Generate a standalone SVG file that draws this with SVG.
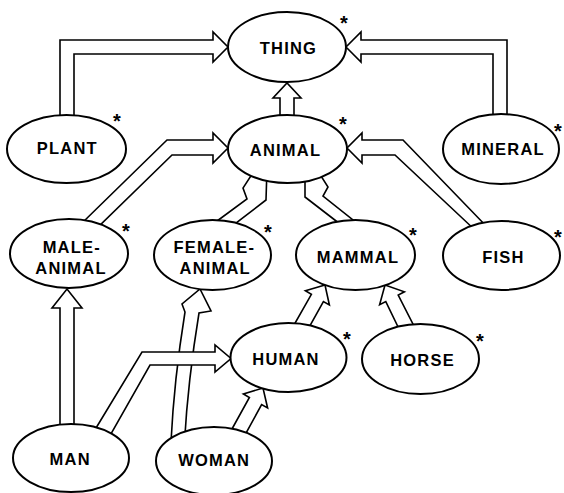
<svg xmlns="http://www.w3.org/2000/svg" width="564" height="493" viewBox="0 0 564 493">
<style>
.c{fill:#fff;stroke:#000;stroke-width:1.6;stroke-linejoin:miter}
.n{fill:#fff;stroke:#000;stroke-width:2}
.t{font-family:"Liberation Sans",Arial,sans-serif;font-weight:bold;font-size:16.5px;letter-spacing:1.2px;text-anchor:middle;fill:#000}
.s{font-family:"Liberation Sans",Arial,sans-serif;font-weight:bold;font-size:20px;text-anchor:middle;fill:#000}
</style>
<rect x="0" y="0" width="564" height="493" fill="#fff"/>
<g id="connectors">
  <polygon id="plant-thing" class="c" points="60,125 60,40 213,40 213,32 228,47 213,62 213,54 74,54 74,125"/>
  <polygon id="mineral-thing" class="c" points="493,125 493,54 361,54 361,62 346,47 361,32 361,40 507,40 507,125"/>
  <polygon id="animal-thing" class="c" points="280,122 280,98 273,98 287,83 301,98 294,98 294,122"/>
  <polygon id="male-animal" class="c" points="81,224 167,140 213,140 213,133 228,148 213,163 213,155 172,155 97,228"/>
  <polygon id="fish-animal" class="c" points="489,229 403,140 362,140 362,133 347,148 362,163 362,155 395,155 476,231"/>
  <polygon id="female-animal" class="c" points="213,224 247,199 243,188 256,168 267,168 266,200 231,227"/>
  <polygon id="mammal-animal" class="c" points="340,224 305,197 305,168 316,168 328,187 323,196 358,224"/>
  <polygon id="man-male" class="c" points="60,432 60,308 52,308 67,289 82,308 74,308 74,432"/>
  <polygon id="human-mammal" class="c" points="290,332 311.4,294.3 305.4,290.8 325,285 329.4,305 323.4,301.5 306.5,332"/>
  <polygon id="horse-mammal" class="c" points="401,333 385.8,301.6 379.6,304.8 385,285 404.4,291.8 398.2,295 417.5,333"/>
  <polygon id="woman-human" class="c" points="227,438 249.4,397.5 243.4,394 263,388 267.6,408 261.6,404.5 243.4,438"/>
  <path id="woman-female" class="c" d="M171,442 Q174,380 185,312 L182,304 L200,289 L211,311 L199,313 Q188,380 184.5,442 Z"/>
  <polygon id="man-human" class="c" points="93,433 142,352 215,352 215,345 231,358.5 215,372 215,365 150,365 107,441"/>
</g>
<g id="thing"><ellipse class="n" cx="287" cy="47" rx="59" ry="35"/><text class="t" x="288.5" y="53.7">THING</text><text class="s" x="344" y="30">*</text></g>
<g id="animal"><ellipse class="n" cx="287.5" cy="149" rx="59.5" ry="34"/><text class="t" x="285.5" y="156">ANIMAL</text><text class="s" x="343" y="131">*</text></g>
<g id="plant"><ellipse class="n" cx="66.5" cy="149" rx="59.5" ry="34"/><text class="t" x="67.3" y="154.3">PLANT</text><text class="s" x="117" y="128">*</text></g>
<g id="mineral"><ellipse class="n" cx="501" cy="149" rx="58" ry="35"/><text class="t" x="503" y="155">MINERAL</text><text class="s" x="558" y="138">*</text></g>
<g id="male-animal-node"><ellipse class="n" cx="69" cy="253.5" rx="59" ry="34.5"/><text class="t" x="71.8" y="253">MALE-</text><text class="t" x="71" y="274">ANIMAL</text><text class="s" x="126" y="238">*</text></g>
<g id="female-animal-node"><ellipse class="n" cx="212.5" cy="255" rx="58.5" ry="35"/><text class="t" x="214.4" y="253.3">FEMALE-</text><text class="t" x="215.2" y="273.5">ANIMAL</text><text class="s" x="268" y="239">*</text></g>
<g id="mammal"><ellipse class="n" cx="355.5" cy="255" rx="59.5" ry="35"/><text class="t" x="358" y="263">MAMMAL</text><text class="s" x="413" y="242">*</text></g>
<g id="fish"><ellipse class="n" cx="501.5" cy="255.5" rx="58.5" ry="34.5"/><text class="t" x="503.5" y="263">FISH</text><text class="s" x="558" y="244">*</text></g>
<g id="human"><ellipse class="n" cx="288.5" cy="357.5" rx="58" ry="34.5"/><text class="t" x="286" y="365">HUMAN</text><text class="s" x="347" y="346">*</text></g>
<g id="horse"><ellipse class="n" cx="420.5" cy="359" rx="58.5" ry="35"/><text class="t" x="422.5" y="366">HORSE</text><text class="s" x="480" y="348">*</text></g>
<g id="man"><ellipse class="n" cx="71" cy="458" rx="58" ry="34"/><text class="t" x="70.2" y="465">MAN</text></g>
<g id="woman"><ellipse class="n" cx="214" cy="461" rx="58" ry="34"/><text class="t" x="214.2" y="466">WOMAN</text></g>
</svg>
